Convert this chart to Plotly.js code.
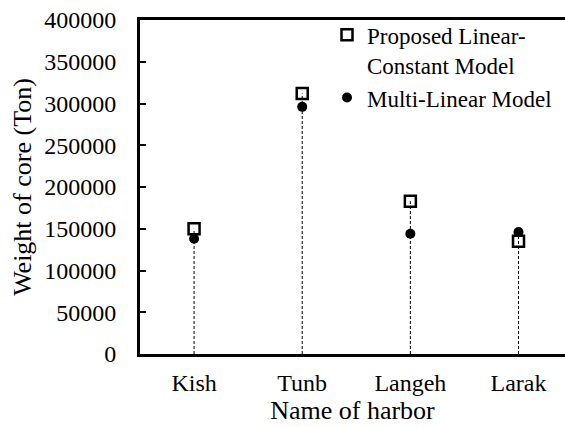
<!DOCTYPE html>
<html>
<head>
<meta charset="utf-8">
<script src="https://cdn.plot.ly/plotly-3.0.1.min.js"></script>
<style>html,body{margin:0;padding:0;background:#fff;}#chart{width:565px;height:427px;}</style>
</head>
<body>
<div id="chart"></div>
<script>
const harbors = ["Kish", "Tunb", "Langeh", "Larak"];
const proposedLinearConstant = [150000, 312000, 183000, 135000];
const multiLinear = [138000, 296000, 144000, 146000];
const yTickValues = [0, 50000, 100000, 150000, 200000, 250000, 300000, 350000, 400000];

const dropX = [], dropY = [];
harbors.forEach((h, i) => {
  dropX.push(h, h, null);
  dropY.push(0, Math.max(proposedLinearConstant[i], multiLinear[i]), null);
});

const FONT = "Liberation Serif, Times New Roman, serif";

const traces = [
  {
    x: dropX, y: dropY, type: "scatter", mode: "lines",
    line: {color: "#000", width: 1, dash: "3px,2px"},
    showlegend: false, hoverinfo: "skip"
  },
  {
    x: harbors, y: multiLinear, type: "scatter", mode: "markers",
    name: "Multi-Linear Model",
    marker: {symbol: "circle", size: 10, color: "#000"}
  },
  {
    x: harbors, y: proposedLinearConstant, type: "scatter", mode: "markers",
    name: "Proposed Linear-<br>Constant Model",
    marker: {symbol: "square-open", size: 11, color: "#000", line: {width: 2.5, color: "#000"}}
  }
];

const layout = {
  width: 565, height: 427,
  margin: {l: 140, r: 0, t: 20, b: 73},
  paper_bgcolor: "#fff", plot_bgcolor: "#fff",
  font: {family: FONT, size: 24, color: "#000"},
  showlegend: true,
  legend: {
    x: 0.44, y: 1.02, xanchor: "left", yanchor: "top",
    bgcolor: "rgba(0,0,0,0)", traceorder: "reversed",
    font: {family: FONT, size: 23, color: "#000"},
    itemwidth: 30, valign: "top", tracegroupgap: 0
  },
  xaxis: {
    type: "category", categoryorder: "array", categoryarray: harbors,
    range: [-0.5, 3.43],
    showline: true, linecolor: "#000", linewidth: 3, mirror: true,
    ticks: "", showgrid: false, zeroline: false,
    ticklabelstandoff: 5,
    tickfont: {family: FONT, size: 24},
    title: {text: "Name of harbor", font: {family: FONT, size: 26}, standoff: 0}
  },
  yaxis: {
    range: [0, 400000], tickvals: yTickValues,
    ticktext: yTickValues.map(String),
    showline: true, linecolor: "#000", linewidth: 3, mirror: false,
    ticks: "inside", ticklen: 6, tickwidth: 2, tickcolor: "#000",
    showgrid: false, zeroline: false,
    ticklabelstandoff: 16,
    tickfont: {family: FONT, size: 24},
    title: {text: "Weight of core (Ton)", font: {family: FONT, size: 26}, standoff: 6}
  }
};

Plotly.newPlot("chart", traces, layout, {displayModeBar: false, staticPlot: true});
</script>
</body>
</html>
